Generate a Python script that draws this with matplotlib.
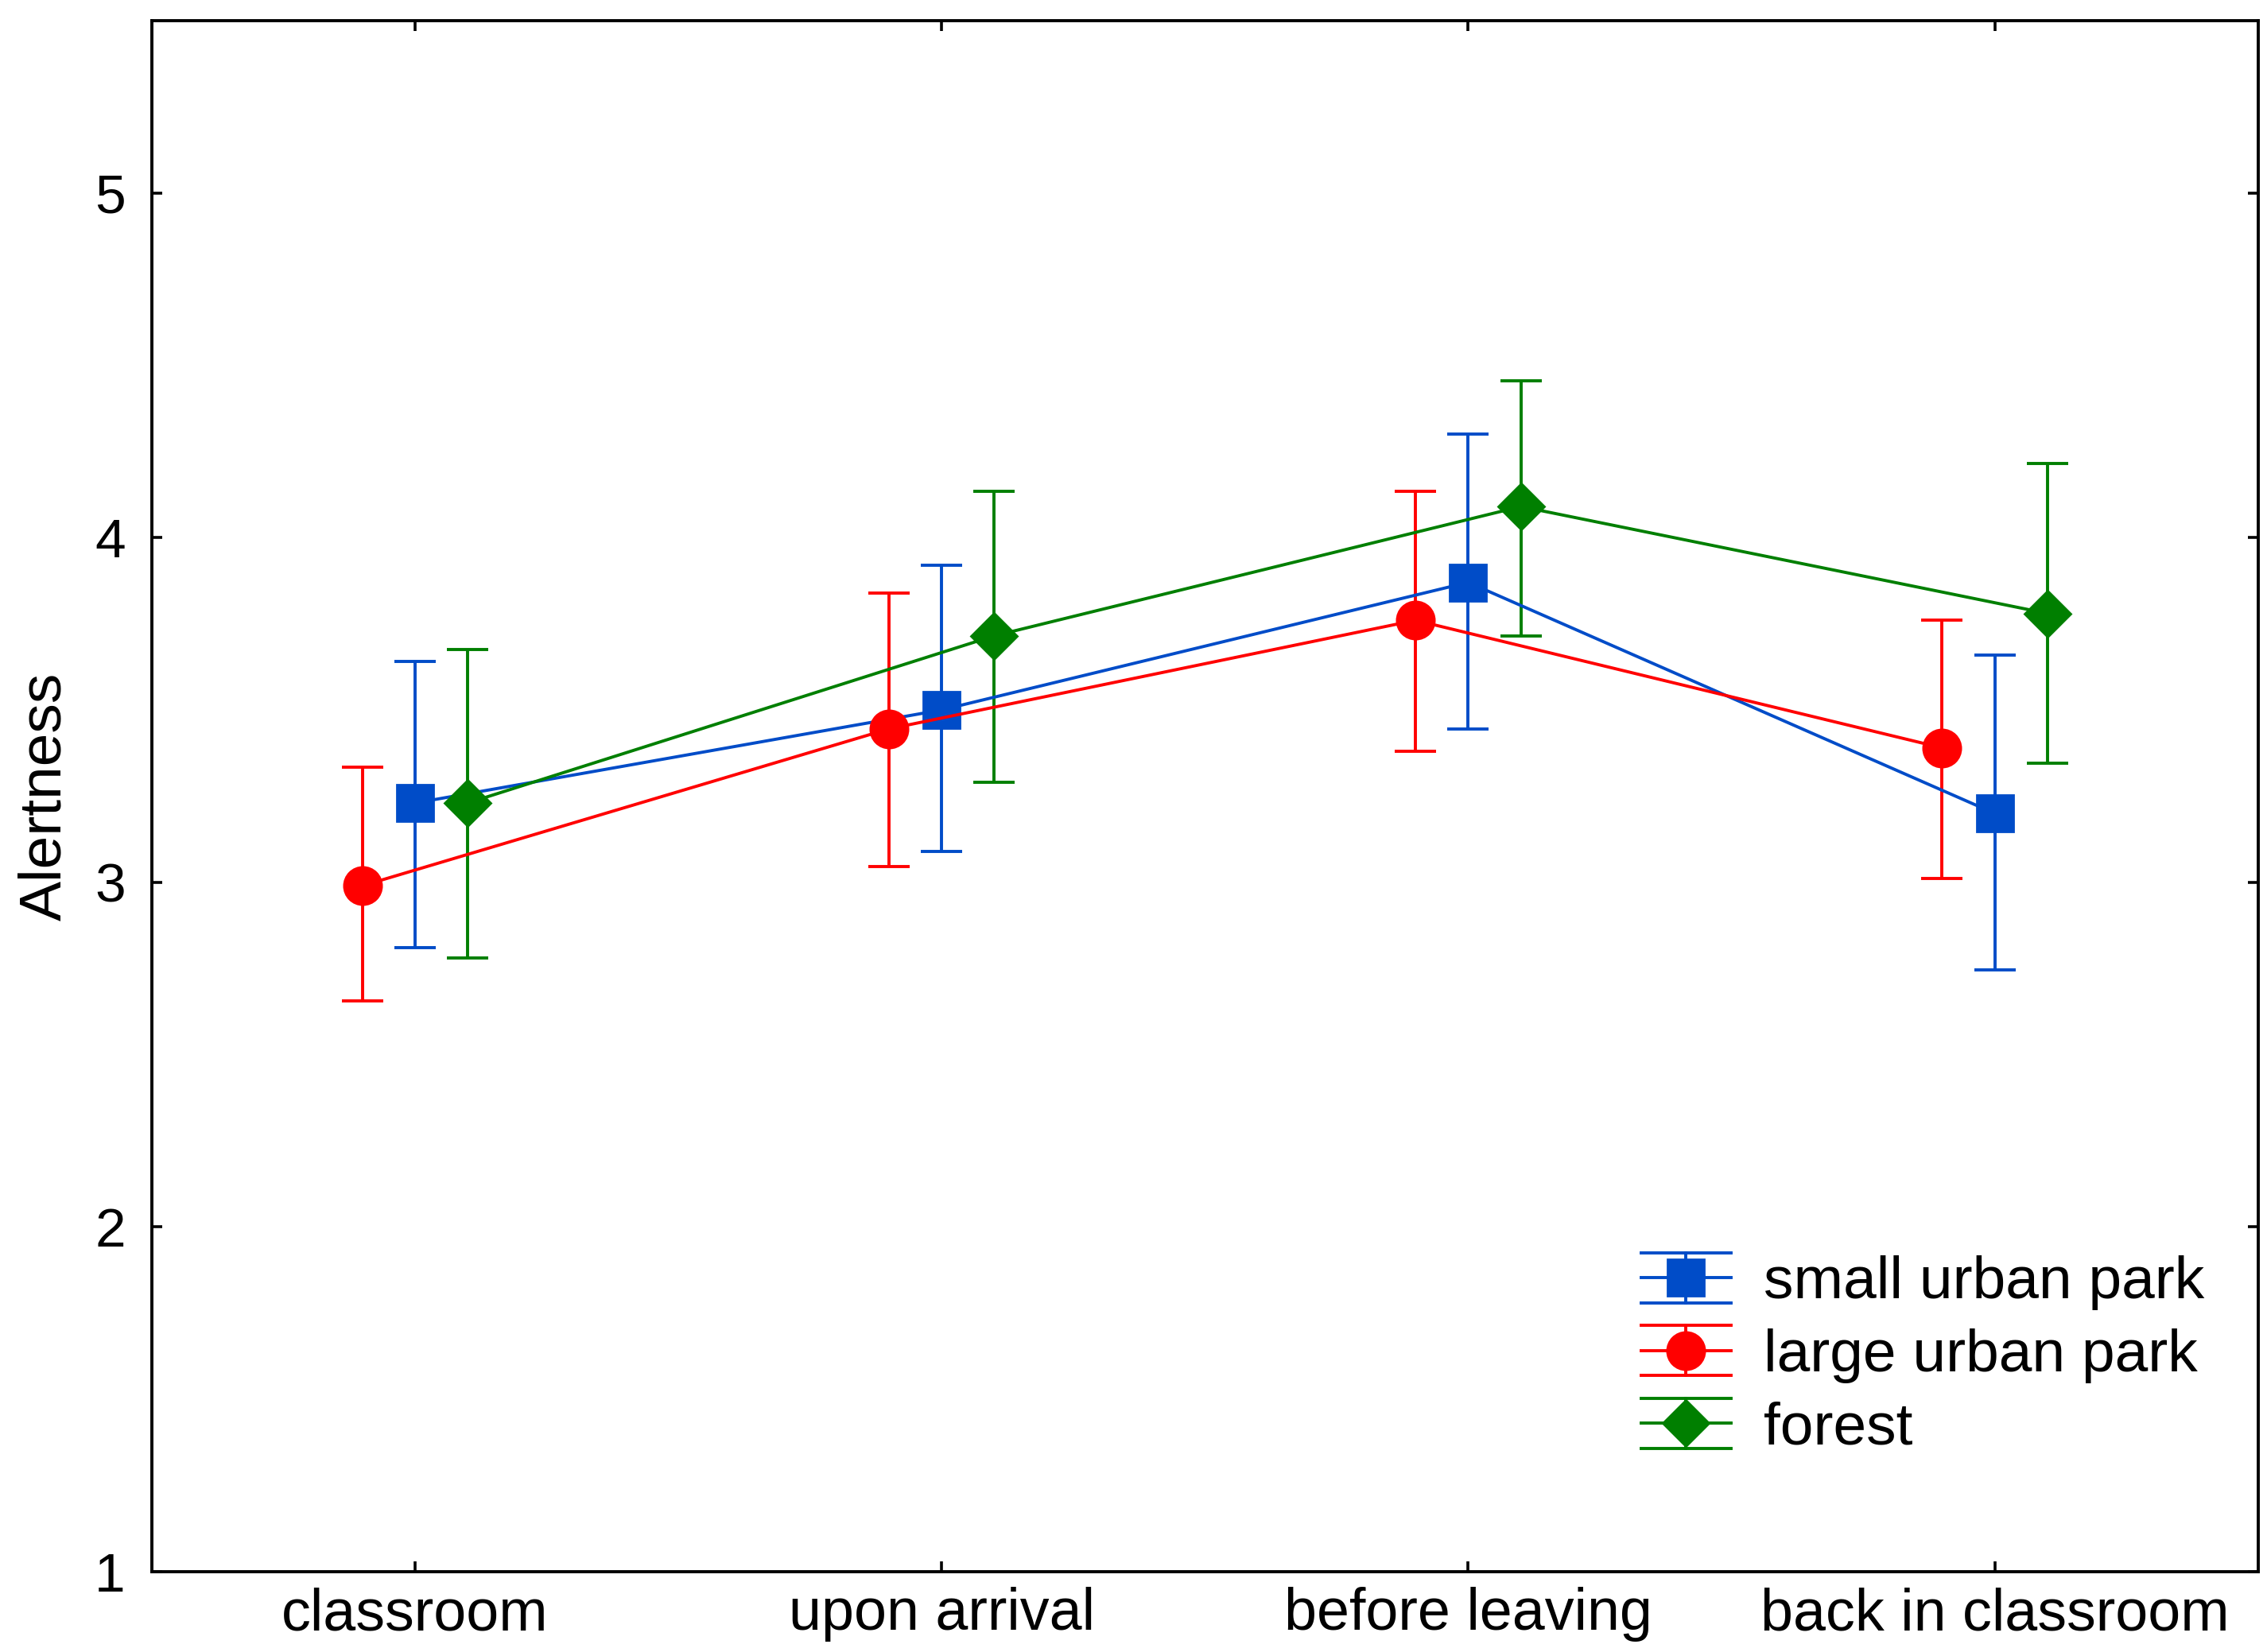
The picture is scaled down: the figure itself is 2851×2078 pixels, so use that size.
import matplotlib.pyplot as plt
import numpy as np
from matplotlib.legend_handler import HandlerBase
from matplotlib.lines import Line2D

# categories along the x axis
stages = ['classroom', 'upon arrival', 'before leaving', 'back in classroom']

# means and CI limits
small_mean = [3.23, 3.50, 3.87, 3.20]
small_lo = [2.81, 3.09, 3.445, 2.745]
small_hi = [3.64, 3.92, 4.30, 3.66]

large_mean = [2.99, 3.445, 3.76, 3.39]
large_lo = [2.655, 3.045, 3.38, 3.01]
large_hi = [3.335, 3.84, 4.135, 3.76]

forest_mean = [3.23, 3.715, 4.09, 3.78]
forest_lo = [2.78, 3.29, 3.715, 3.345]
forest_hi = [3.675, 4.135, 4.455, 4.215]

narrow = ['Liberation Sans Narrow', 'Liberation Sans', 'DejaVu Sans']
plt.rcParams['font.family'] = ['Liberation Sans', 'DejaVu Sans']


# legend key like the original: full-width caps, bar and marker
class CapKey(HandlerBase):
    def create_artists(self, legend, orig, xd, yd, w, h, fs, trans):
        line = orig.lines[0]
        col = line.get_color()
        ym = yd + h / 2
        half = h * 0.6
        arts = [
            Line2D([xd, xd + w], [ym, ym], color=col, lw=1.4),
            Line2D([xd, xd + w], [ym + half, ym + half], color=col, lw=1.4),
            Line2D([xd, xd + w], [ym - half, ym - half], color=col, lw=1.4),
            Line2D([xd + w / 2, xd + w / 2], [ym - half, ym + half], color=col, lw=1.4),
            Line2D([xd + w / 2], [ym], marker=line.get_marker(), color=col,
                   markersize=line.get_markersize(), linestyle='none'),
        ]
        for a in arts:
            a.set_transform(trans)
        return arts


fig = plt.figure(figsize=(14.255, 10.39), dpi=200)
ax = fig.add_axes([0.067, 0.0486, 0.929, 0.939])

x = np.arange(len(stages))
series = [
    ('small urban park', small_mean, small_lo, small_hi, '#004cc8', 's', 16.5, 0.0),
    ('large urban park', large_mean, large_lo, large_hi, '#ff0000', 'o', 17, -0.1),
    ('forest', forest_mean, forest_lo, forest_hi, '#007f00', 'D', 15, 0.1),
]
handles = []
for name, m, lo, hi, col, mk, ms, off in series:
    m = np.array(m)
    yerr = [m - np.array(lo), np.array(hi) - m]
    h = ax.errorbar(x + off, m, yerr=yerr, color=col, marker=mk, markersize=ms,
                    linewidth=1.4, elinewidth=1.4, capsize=9.5, capthick=1.4,
                    label=name)
    handles.append(h)

ax.set_xlim(-0.5, 3.5)
ax.set_ylim(1, 5.5)
ax.set_xticks(x)
ax.set_xticklabels(stages, fontsize=26.5)
ax.set_yticks([1, 2, 3, 4, 5])
ax.set_yticklabels(['1', '2', '3', '4', '5'], fontsize=25)
ax.tick_params(direction='in', length=4.6, width=1.3, top=True, right=True, pad=12)
ax.tick_params(axis='x', pad=7)
for s in ax.spines.values():
    s.set_linewidth(1.4)

ax.set_ylabel('Alertness', fontsize=27, family=narrow, labelpad=10)

leg = ax.legend(handles=handles, loc='lower right', bbox_to_anchor=(1.0, 0.04),
                frameon=False, prop={'family': narrow, 'size': 27},
                handler_map={type(handles[0]): CapKey()},
                handlelength=1.5, handleheight=0.7, handletextpad=0.55,
                labelspacing=0.3)

plt.savefig('out.png', dpi=200)
